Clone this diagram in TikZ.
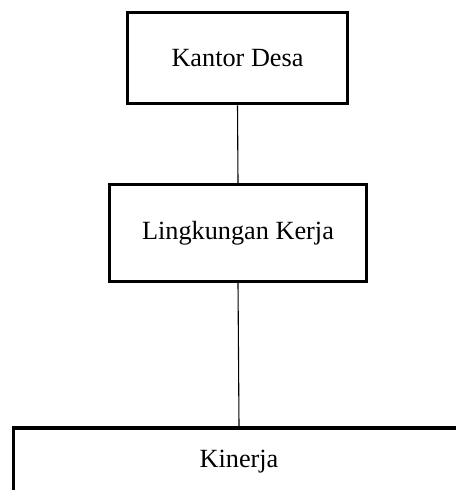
\documentclass[tikz,border=0pt]{standalone}
\usepackage{fontspec}
\setmainfont{Liberation Serif}
\tikzset{
  kotak/.style = {draw, line width=1.6pt, rectangle, align=center, font=\large},
  garis/.style = {line width=.5pt}
}
\begin{document}
\begin{tikzpicture}[x = .457pt, y = -.457pt]
	\useasboundingbox (0,0) rectangle (456,490);
	\clip (0,0) rectangle (456,490);
	\node[kotak, minimum width=100.5pt, minimum height=41.6pt] (desa) at (237.5,58) {Kantor Desa}; %atas
	\node[kotak, minimum width=117.4pt, minimum height=44.3pt] (lingkungan) at (238,233) {Lingkungan Kerja}; %tengah
	\node[kotak, minimum width=206pt, minimum height=30.6pt] (kinerja) at (239,461.5) {Kinerja}; %bawah
	\draw[garis] (desa.south) -- (lingkungan.north);
	\draw[garis] (lingkungan.south) -- (kinerja.north);
\end{tikzpicture}
\end{document}
